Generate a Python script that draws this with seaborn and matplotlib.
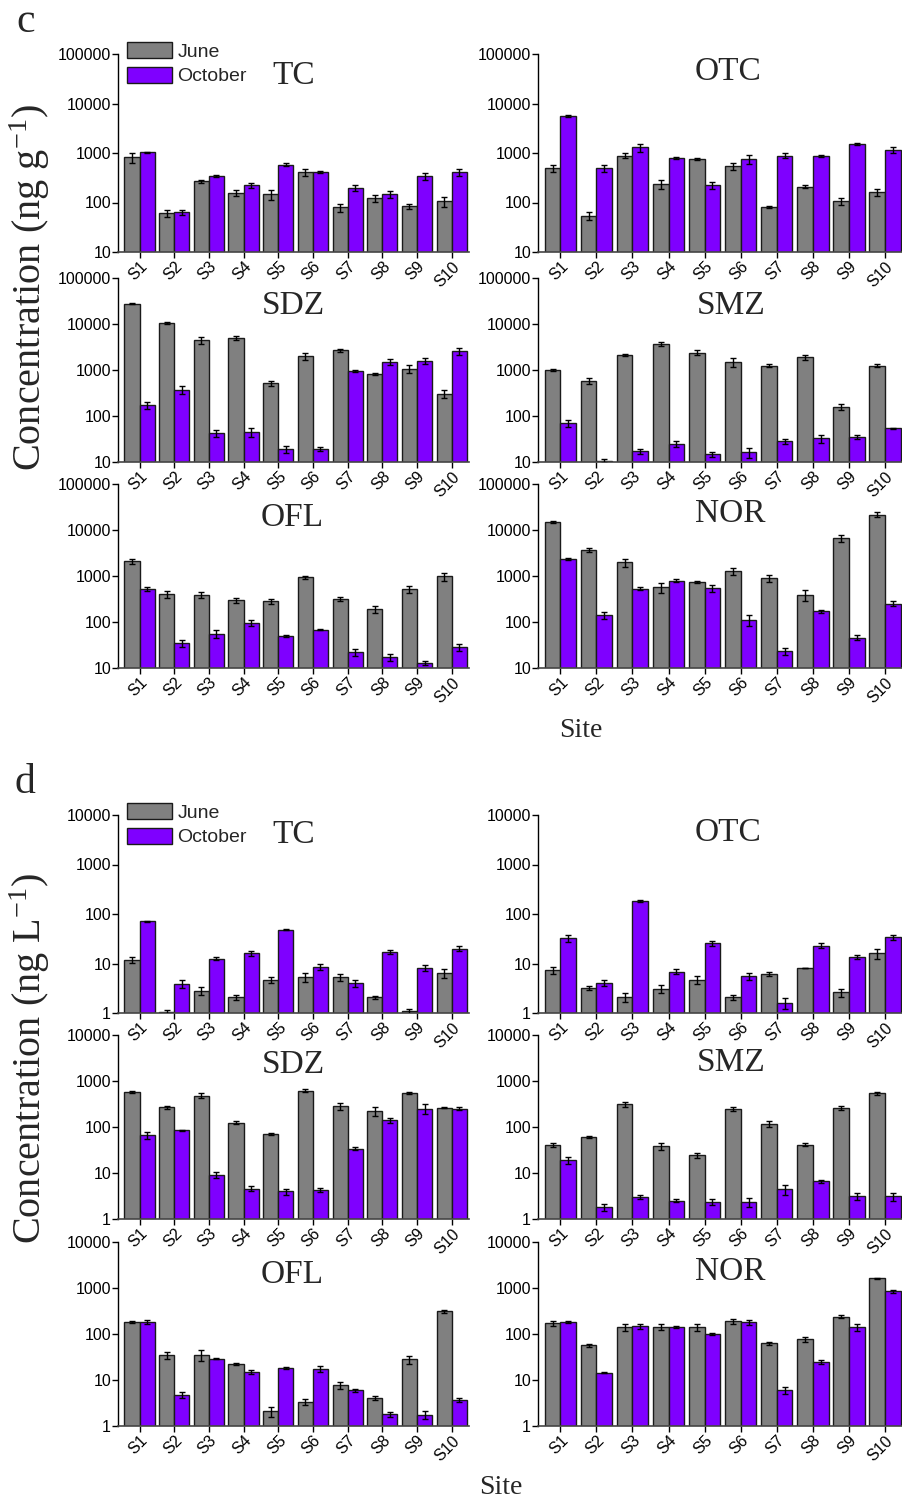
import numpy as np
import pandas as pd
import matplotlib
matplotlib.use("Agg")
import matplotlib.pyplot as plt
import seaborn as sns
from matplotlib.ticker import FixedLocator, FuncFormatter, NullLocator
from matplotlib.patches import Patch

sites = ["S1", "S2", "S3", "S4", "S5", "S6", "S7", "S8", "S9", "S10"]
months = ["June", "October"]

# ---- c: sediment (ng g-1) ----
c_tc_jun = [820, 60, 268, 158, 148, 410, 80, 123, 85, 107]
c_tc_jun_err = [200, 10, 20, 25, 35, 60, 15, 22, 10, 25]
c_tc_oct = [1030, 64, 340, 222, 585, 420, 200, 147, 340, 415]
c_tc_oct_err = [40, 8, 15, 25, 30, 20, 30, 25, 60, 70]

c_otc_jun = [490, 54, 880, 235, 760, 535, 80, 210, 108, 160]
c_otc_jun_err = [80, 10, 100, 45, 40, 80, 4, 15, 18, 25]
c_otc_oct = [5500, 490, 1300, 790, 225, 760, 890, 870, 1520, 1170]
c_otc_oct_err = [250, 80, 250, 30, 35, 150, 100, 40, 80, 170]

c_sdz_jun = [27500, 10500, 4400, 4900, 520, 2000, 2700, 830, 1070, 305]
c_sdz_jun_err = [500, 700, 700, 500, 60, 350, 200, 40, 200, 60]
c_sdz_oct = [170, 370, 42, 45, 19, 19, 950, 1500, 1580, 2550]
c_sdz_oct_err = [30, 70, 7, 10, 3, 2, 60, 200, 250, 450]

c_smz_jun = [1000, 580, 2140, 3650, 2370, 1490, 1240, 1870, 160, 1240]
c_smz_jun_err = [40, 80, 120, 350, 300, 300, 100, 250, 25, 90]
c_smz_oct = [69, 10.5, 17, 25, 14.6, 16.5, 28, 32.5, 35, 54]
c_smz_oct_err = [12, 1, 2, 4, 1.5, 4, 3, 6, 3.5, 2]

c_ofl_jun = [2090, 410, 390, 300, 280, 940, 315, 190, 510, 980]
c_ofl_jun_err = [250, 70, 50, 35, 30, 70, 30, 30, 90, 200]
c_ofl_oct = [520, 35, 56, 97, 50, 68, 22, 17, 13, 28]
c_ofl_oct_err = [50, 6, 12, 15, 3, 2, 4, 3, 1.2, 5]

c_nor_jun = [14900, 3700, 2000, 570, 740, 1280, 890, 390, 6600, 21700]
c_nor_jun_err = [600, 400, 400, 150, 50, 250, 150, 100, 1100, 2500]
c_nor_oct = [2370, 144, 525, 790, 550, 112, 23, 170, 46, 250]
c_nor_oct_err = [150, 25, 40, 60, 100, 30, 4, 15, 5, 30]

# ---- d: water (ng L-1) ----
d_tc_jun = [11.9, 1.05, 2.8, 2.07, 4.7, 5.3, 5.3, 2.07, 1.08, 6.4]
d_tc_jun_err = [1.5, 0.12, 0.5, 0.25, 0.6, 1.0, 0.9, 0.12, 0.15, 1.3]
d_tc_oct = [71, 3.9, 12.5, 16, 48, 8.6, 4.0, 17, 8.3, 20]
d_tc_oct_err = [2.5, 0.7, 1.0, 1.5, 1.5, 1.3, 0.6, 1.5, 1.2, 2.5]

d_otc_jun = [7.3, 3.2, 2.1, 3.1, 4.7, 2.1, 6.2, 8.2, 2.6, 16]
d_otc_jun_err = [1.2, 0.3, 0.4, 0.6, 0.8, 0.25, 0.5, 0.1, 0.5, 3.5]
d_otc_oct = [32, 4.1, 180, 6.8, 26, 5.6, 1.6, 23, 13.6, 34]
d_otc_oct_err = [5, 0.6, 8, 0.8, 3, 0.9, 0.4, 2.5, 1, 4]

d_sdz_jun = [585, 268, 480, 124, 71, 615, 280, 220, 550, 265]
d_sdz_jun_err = [30, 20, 60, 10, 4, 40, 50, 50, 20, 8]
d_sdz_oct = [66, 84, 9.1, 4.6, 4.0, 4.35, 34, 140, 250, 252]
d_sdz_oct_err = [12, 2, 1.5, 0.5, 0.6, 0.4, 2, 15, 60, 15]

d_smz_jun = [41.5, 61, 317, 38, 24.5, 245, 118, 41.5, 257, 540]
d_smz_jun_err = [4, 4, 40, 6, 3, 25, 18, 3, 25, 50]
d_smz_oct = [19, 1.8, 3.0, 2.5, 2.4, 2.3, 4.4, 6.6, 3.1, 3.1]
d_smz_oct_err = [3, 0.3, 0.25, 0.2, 0.35, 0.5, 1, 0.4, 0.5, 0.6]

d_ofl_jun = [182, 35, 35, 22.5, 2.1, 3.4, 7.6, 4.0, 28, 310]
d_ofl_jun_err = [8, 6, 9, 1.5, 0.5, 0.5, 1.3, 0.4, 6, 30]
d_ofl_oct = [182, 4.8, 29, 14.9, 18.5, 17.6, 6.0, 1.8, 1.75, 3.7]
d_ofl_oct_err = [18, 0.8, 1, 1.2, 1, 2.5, 0.5, 0.25, 0.35, 0.4]

d_nor_jun = [173, 57, 142, 144, 140, 190, 63, 78, 240, 1640]
d_nor_jun_err = [20, 5, 25, 20, 25, 25, 5, 10, 20, 50]
d_nor_oct = [180, 14.4, 146, 142, 100, 180, 6.0, 24.5, 143, 850]
d_nor_oct_err = [10, 0.3, 20, 10, 3, 25, 1, 2.5, 25, 70]

GRAY = "#808080"
PURPLE = "#7F00FF"
SANS = "Liberation Sans"
SERIF = "Liberation Serif"

sns.set_theme(style="ticks")
plt.rcParams["font.family"] = [SANS, "DejaVu Sans"]
plt.rcParams["mathtext.fontset"] = "custom"
plt.rcParams["mathtext.rm"] = SERIF
plt.rcParams["mathtext.it"] = SERIF + ":italic"
plt.rcParams["mathtext.default"] = "rm"

fig = plt.figure(figsize=(9.03, 15.0), dpi=100)

W, H = 903.0, 1500.0
col_x = [(118, 469), (538, 903)]
rows_c = [(54, 252), (278, 462), (484, 668)]
rows_d = [(815, 1013), (1035, 1219), (1242, 1426)]

panels_c = [
    ("TC", c_tc_jun, c_tc_jun_err, c_tc_oct, c_tc_oct_err, (0.50, 0.89)),
    ("OTC", c_otc_jun, c_otc_jun_err, c_otc_oct, c_otc_oct_err, (0.52, 0.91)),
    ("SDZ", c_sdz_jun, c_sdz_jun_err, c_sdz_oct, c_sdz_oct_err, (0.50, 0.85)),
    ("SMZ", c_smz_jun, c_smz_jun_err, c_smz_oct, c_smz_oct_err, (0.53, 0.85)),
    ("OFL", c_ofl_jun, c_ofl_jun_err, c_ofl_oct, c_ofl_oct_err, (0.495, 0.815)),
    ("NOR", c_nor_jun, c_nor_jun_err, c_nor_oct, c_nor_oct_err, (0.526, 0.84)),
]
panels_d = [
    ("TC", d_tc_jun, d_tc_jun_err, d_tc_oct, d_tc_oct_err, (0.50, 0.90)),
    ("OTC", d_otc_jun, d_otc_jun_err, d_otc_oct, d_otc_oct_err, (0.52, 0.91)),
    ("SDZ", d_sdz_jun, d_sdz_jun_err, d_sdz_oct, d_sdz_oct_err, (0.50, 0.84)),
    ("SMZ", d_smz_jun, d_smz_jun_err, d_smz_oct, d_smz_oct_err, (0.53, 0.85)),
    ("OFL", d_ofl_jun, d_ofl_jun_err, d_ofl_oct, d_ofl_oct_err, (0.495, 0.82)),
    ("NOR", d_nor_jun, d_nor_jun_err, d_nor_oct, d_nor_oct_err, (0.526, 0.84)),
]


def draw_panel(rect, name, jun, jun_e, octo, oct_e, title_pos, ylim, ticks):
    ax = fig.add_axes(rect)
    ax.patch.set_alpha(0)
    ax.set_yscale("log")
    df = pd.DataFrame({
        "Site": sites * 2,
        "Month": ["June"] * len(sites) + ["October"] * len(sites),
        "Value": list(jun) + list(octo),
    })
    sns.barplot(data=df, x="Site", y="Value", hue="Month", order=sites,
                hue_order=months, palette=[GRAY, PURPLE], width=0.87,
                errorbar=None, edgecolor="#1a1a1a", linewidth=1.0,
                legend=False, ax=ax, saturation=1)
    errs = [jun_e, oct_e]
    for cont, err in zip(ax.containers, errs):
        xs = [p.get_x() + p.get_width() / 2 for p in cont.patches]
        ys = [p.get_height() for p in cont.patches]
        ax.errorbar(xs, ys, yerr=err, fmt="none", ecolor="black",
                    elinewidth=1.0, capsize=2.5, capthick=1.0, zorder=5)
    ax.set_ylim(*ylim)
    ax.set_xlim(-0.62, 9.5)
    ax.yaxis.set_major_locator(FixedLocator(ticks))
    ax.yaxis.set_minor_locator(NullLocator())
    ax.yaxis.set_major_formatter(FuncFormatter(lambda v, p: f"{int(round(v))}"))
    ax.set_xlabel("")
    ax.set_ylabel("")
    for s in ["top", "right"]:
        ax.spines[s].set_visible(False)
    ax.spines["left"].set_color("black")
    ax.spines["left"].set_linewidth(1.0)
    ax.spines["bottom"].set_color("#444444")
    ax.spines["bottom"].set_linewidth(1.2)
    ax.tick_params(axis="y", direction="out", length=4, width=1,
                   labelsize=11.5, pad=1, colors="black")
    ax.tick_params(axis="x", direction="out", length=4, width=1,
                   labelsize=11.5, pad=1, colors="black")
    for lab in ax.get_xticklabels():
        lab.set_rotation(45)
        lab.set_ha("right")
        lab.set_rotation_mode("anchor")
    ax.text(title_pos[0], title_pos[1], name, transform=ax.transAxes,
            ha="center", va="center", fontsize=24, family=SERIF)
    return ax


def layout(panels, rows, ylim, ticks):
    for i, (name, j, je, o, oe, tp) in enumerate(panels):
        r, c = divmod(i, 2)
        x0, x1 = col_x[c]
        t, b = rows[r]
        rect = [x0 / W, 1 - b / H, (x1 - x0) / W, (b - t) / H]
        draw_panel(rect, name, j, je, o, oe, tp, ylim, ticks)


layout(panels_c, rows_c, (10, 100000), [10, 100, 1000, 10000, 100000])
layout(panels_d, rows_d, (1, 10000), [1, 10, 100, 1000, 10000])

handles = [Patch(facecolor=GRAY, edgecolor="#1a1a1a", linewidth=1.0, label="June"),
           Patch(facecolor=PURPLE, edgecolor="#1a1a1a", linewidth=1.0, label="October")]
for top in (42, 803):
    fig.legend(handles=handles, loc="upper left",
               bbox_to_anchor=(127 / W, 1 - top / H), frameon=False,
               fontsize=14, handlelength=2.3, handleheight=0.9,
               handletextpad=0.3, labelspacing=0.3, borderpad=0,
               borderaxespad=0)

fig.text(16 / W, 1 - 32 / H, "c", fontsize=30, family=SERIF, va="baseline")
fig.text(15 / W, 1 - 793 / H, "d", fontsize=30, family=SERIF, va="baseline")

fig.text(30 / W, 1 - 288 / H, "Concentration (ng g$^{-1}$)", rotation=90,
         ha="center", va="center", fontsize=29, family=SERIF)
fig.text(30 / W, 1 - 1058 / H, "Concentration (ng L$^{-1}$)", rotation=90,
         ha="center", va="center", fontsize=29, family=SERIF)

fig.text(581 / W, 1 - 737 / H, "Site", ha="center", va="baseline",
         fontsize=20, family=SERIF)
fig.text(501 / W, 1 - 1494 / H, "Site", ha="center", va="baseline",
         fontsize=20, family=SERIF)

fig.savefig("out.png", dpi=100, facecolor="white")
